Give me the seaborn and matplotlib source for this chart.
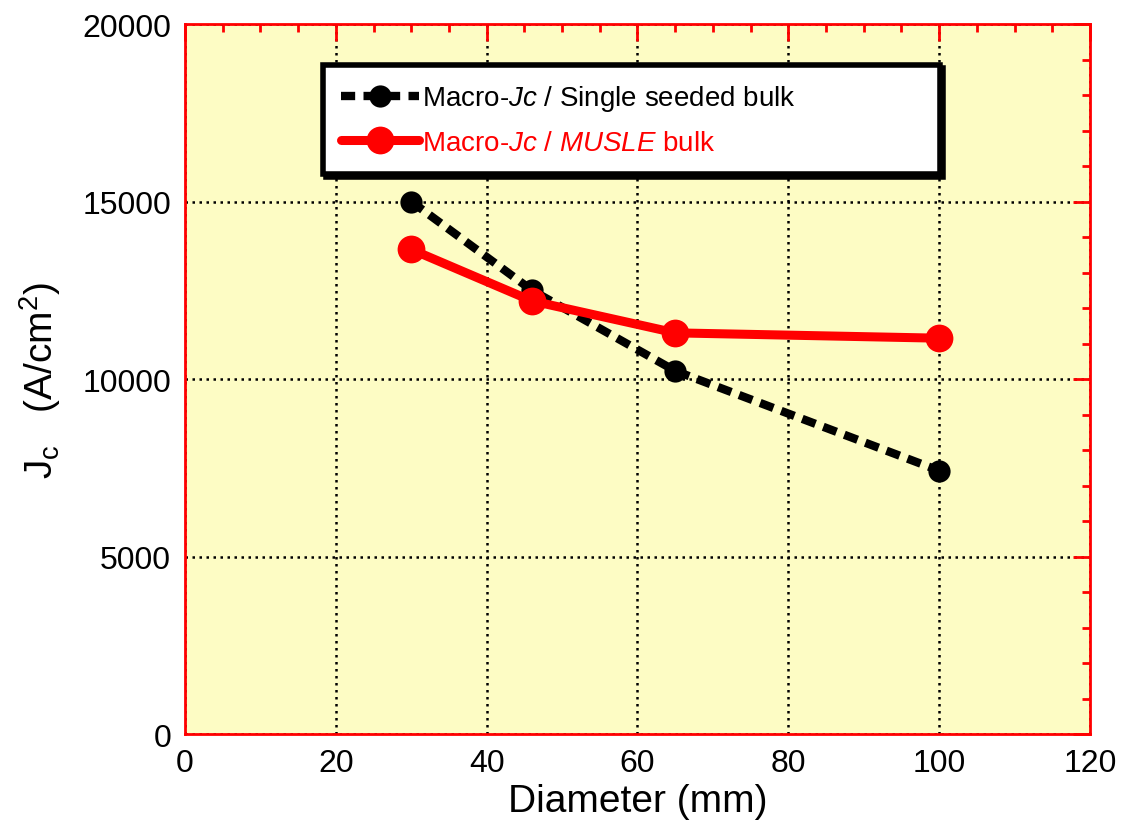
import matplotlib
matplotlib.use("Agg")
import matplotlib.pyplot as plt
from matplotlib.ticker import MultipleLocator
import seaborn as sns
import pandas as pd

# data
diameter = [30, 46, 65, 100]
jc_single = [15000, 12500, 10230, 7420]
jc_musle = [13650, 12200, 11300, 11150]

x_ticks = [0, 20, 40, 60, 80, 100, 120]
y_ticks = [0, 5000, 10000, 15000, 20000]

sns.set_theme(style="white")
plt.rcParams['font.family'] = ['Liberation Sans', 'DejaVu Sans']
plt.rcParams['text.color'] = 'black'
plt.rcParams['axes.labelcolor'] = 'black'
plt.rcParams['mathtext.fontset'] = 'custom'
plt.rcParams['mathtext.rm'] = 'Liberation Sans'
plt.rcParams['mathtext.it'] = 'Liberation Sans:italic'

df = pd.DataFrame({'Diameter': diameter, 'single': jc_single, 'musle': jc_musle})

fig = plt.figure(figsize=(11.23, 8.28), dpi=100)
ax = fig.add_axes([0.1647, 0.1123, 0.9706 - 0.1647, 0.9698 - 0.1123])
ax.set_facecolor('#FDFCC4')

sns.lineplot(data=df, x='Diameter', y='single', ax=ax, color='black',
             linewidth=6, linestyle=(0, (1.7, 1.0)), marker='o', markersize=16,
             markeredgewidth=0, label=r'Macro-$\mathit{Jc}$ / Single seeded bulk', zorder=3)
sns.lineplot(data=df, x='Diameter', y='musle', ax=ax, color='#FF0000',
             linewidth=6.5, marker='o', markersize=20, markeredgewidth=0,
             label=r'Macro-$\mathit{Jc}$ / $\mathit{MUSLE}$ bulk', zorder=4)

ax.set_xlim(0, 120)
ax.set_ylim(0, 20000)
ax.set_xticks(x_ticks)
ax.set_yticks(y_ticks)
ax.xaxis.set_minor_locator(MultipleLocator(5))
ax.yaxis.set_minor_locator(MultipleLocator(1000))

ax.grid(True, which='major', color='black', linestyle=(0, (1, 1.8)), linewidth=1.8)
for s in ax.spines.values():
    s.set_color('#FF0000')
    s.set_linewidth(2)
ax.tick_params(which='both', direction='in', color='#FF0000', labelcolor='black',
               top=True, right=True, width=2)
ax.tick_params(which='major', length=12, pad=10)
ax.tick_params(which='minor', length=6)
for lab in ax.get_xticklabels() + ax.get_yticklabels():
    lab.set_fontsize(23)

ax.set_xlabel('Diameter (mm)', fontsize=28, labelpad=4)
ax.set_ylabel(r'J$_\mathrm{c}$   (A/cm$^2$)', fontsize=28, labelpad=14)

leg = ax.legend(loc='upper left', bbox_to_anchor=(0.1525, 0.78, 0.682, 0.162),
                mode='expand', fontsize=20,
                frameon=True, fancybox=False, shadow={'color': 'black', 'alpha': 1},
                handlelength=2.8, handletextpad=0.1, borderpad=0.65, labelspacing=0.6,
                borderaxespad=0, framealpha=1)
leg.get_frame().set_edgecolor('black')
leg.get_frame().set_linewidth(4)
leg.get_texts()[1].set_color('#FF0000')

plt.savefig('out.png', dpi=100)
